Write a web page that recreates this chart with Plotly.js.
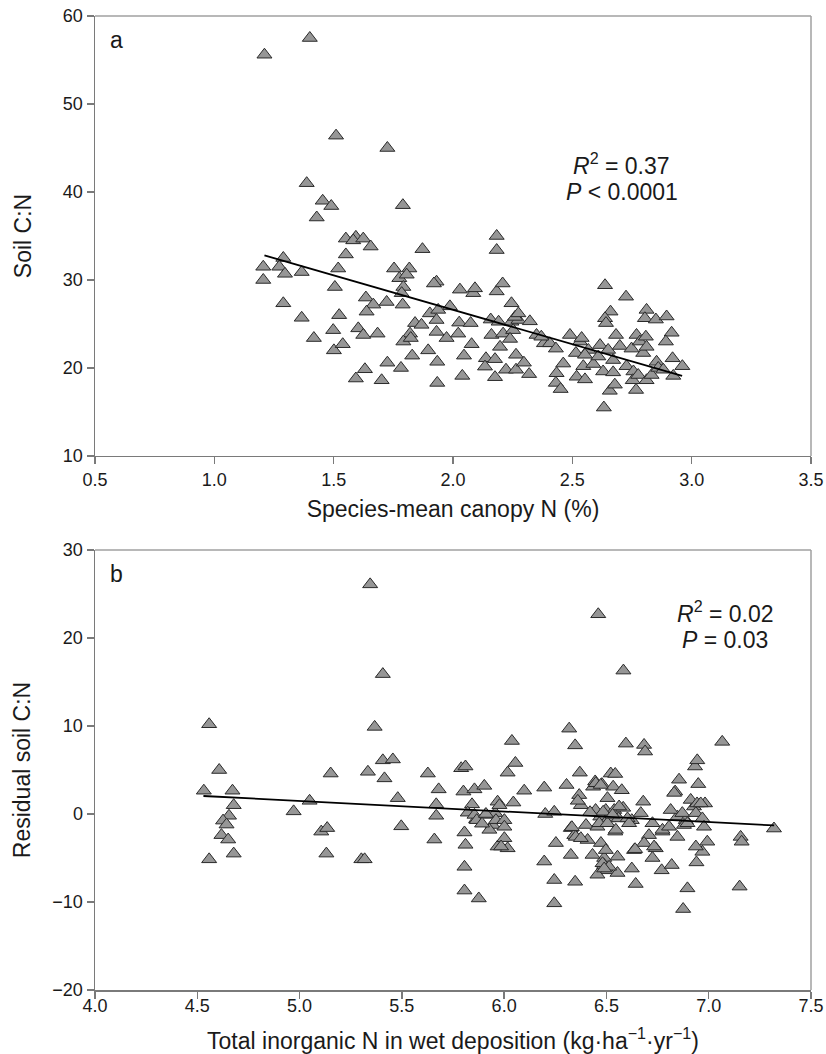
<!DOCTYPE html>
<html>
<head>
<meta charset="utf-8">
<script src="https://cdn.plot.ly/plotly-3.0.1.min.js"></script>
<style>html,body{margin:0;padding:0;background:#fff;}#chart{width:826px;height:1054px;}</style>
</head>
<body>
<div id="chart"></div>
<script>
// Panel a: species-mean canopy N (%) vs soil C:N
const canopyN = [1.21,1.40,1.51,1.725,1.387,1.454,1.49,1.429,1.79,1.551,1.593,1.582,1.624,1.655,1.551,1.872,2.183,2.183,1.205,1.205,
1.289,1.272,1.296,1.366,1.519,1.505,1.289,1.366,1.417,1.523,1.498,1.501,1.538,1.635,1.666,1.638,1.722,1.603,1.624,1.684,
1.753,1.817,1.775,1.806,1.792,1.785,1.789,1.631,1.593,1.701,1.725,1.782,1.931,1.92,2.029,2.085,2.092,1.987,1.903,1.938,
1.841,1.868,1.931,1.820,1.792,1.823,1.931,1.973,2.026,2.022,2.074,2.078,1.829,1.896,1.934,2.046,2.039,1.934,2.183,2.208,
2.245,2.158,2.191,2.245,2.274,2.322,2.161,2.210,2.252,2.239,2.260,2.197,2.138,2.134,2.176,2.176,2.222,2.264,2.264,2.297,
2.319,2.350,2.381,2.406,2.431,2.490,2.532,2.515,2.462,2.434,2.431,2.451,2.518,2.553,2.546,2.567,2.588,2.616,2.629,2.609,
2.637,2.725,2.660,2.637,2.641,2.683,2.650,2.699,2.671,2.671,2.657,2.632,2.678,2.727,2.748,2.756,2.753,2.767,2.769,2.783,
2.808,2.811,2.804,2.850,2.797,2.811,2.776,2.811,2.832,2.853,2.860,2.895,2.916,2.892,2.920,2.923,2.961,2.881,2.37,2.553,
2.274,2.539];
const soilCN = [55.6,57.5,46.4,45.0,41.0,39.0,38.4,37.1,38.5,34.7,34.9,34.5,34.7,33.8,32.9,33.5,35.0,33.4,31.5,30.0,
32.5,31.5,30.7,30.9,31.3,29.2,27.35,25.7,23.4,26.0,24.3,22.0,22.7,28.0,27.2,26.4,27.5,24.5,23.75,23.9,
31.3,31.3,30.2,30.6,29.2,28.5,27.2,19.85,18.8,18.6,20.6,20.0,29.8,29.6,28.9,28.5,29.05,27.0,26.2,26.6,
25.1,24.9,25.45,23.9,23.0,23.4,24.1,23.4,25.15,23.9,25.1,22.7,21.4,22.0,20.7,21.4,19.1,18.3,28.7,29.6,
27.35,25.5,25.25,25.25,25.45,25.3,23.75,23.9,24.3,23.3,25.8,22.4,21.1,20.15,21.0,18.95,19.8,21.5,19.8,20.6,
19.3,23.75,22.8,22.8,22.2,23.75,23.0,21.7,20.5,19.4,18.3,17.6,19.0,18.7,20.2,22.05,20.45,22.6,19.6,21.3,
29.4,28.1,26.4,25.65,25.1,23.75,22.05,22.5,20.9,19.5,17.4,15.5,18.1,20.2,22.2,19.6,18.6,17.5,23.75,23.0,
23.55,26.6,25.65,25.5,21.7,22.4,19.2,18.6,19.2,20.7,20.0,25.85,24.0,23.0,21.1,19.1,20.2,19.8,23.55,21.5,
26.2,23.4];
const fitAx = [1.21, 2.96];
const fitAy = [32.8, 19.1];

// Panel b: total inorganic N in wet deposition vs residual soil C:N
const wetDepN = [5.345,4.558,5.407,5.367,6.460,6.583,6.318,6.038,6.347,6.595,6.684,6.689,7.066,4.607,4.532,4.672,4.678,4.655,4.626,4.643,
4.618,4.651,4.678,4.558,5.152,5.049,4.971,5.106,5.135,5.131,5.302,5.318,5.334,5.407,5.456,5.415,5.480,5.497,5.627,5.680,
5.668,5.668,5.659,5.790,5.811,5.801,5.855,5.903,5.843,5.822,5.863,5.908,5.957,5.944,5.806,5.811,5.806,5.806,5.876,5.968,
5.968,6.055,6.017,6.098,6.196,6.305,6.370,6.445,6.478,6.521,6.543,6.533,6.575,6.505,6.367,6.375,6.447,6.497,6.538,6.582,
6.470,6.510,6.559,6.624,6.40,6.456,6.543,6.326,6.343,6.408,6.680,6.668,6.725,6.774,6.708,6.741,6.635,6.554,6.489,6.489,
6.505,6.456,6.554,6.624,6.432,6.326,6.253,6.196,6.245,6.347,6.245,6.643,6.770,6.819,6.875,6.896,6.940,6.969,6.993,6.937,
6.847,6.847,6.888,6.814,6.871,6.928,6.937,6.969,6.912,6.943,6.982,6.977,6.855,6.836,6.949,6.933,6.944,7.156,7.161,7.151,
7.319,5.928,5.960,6.001,6.001,5.977,6.001,6.017,5.985,6.045,6.201,6.245,6.331,6.350,6.375,6.435,6.448,6.472,6.562,6.484,
6.465,6.505,6.53,6.546,6.603,6.611,6.473,6.497,6.481,6.513,6.489,6.684,6.725,6.774,6.806,6.831,6.879,6.896,6.961,5.855,
5.866,5.892,5.911,6.36,6.42,6.733,6.640];
const residCN = [26.1,10.2,15.9,9.9,22.7,16.3,9.7,8.3,7.8,8.0,7.85,7.1,8.2,5.0,2.65,2.65,1.0,-0.2,-0.75,-1.2,
-2.4,-2.9,-4.5,-5.15,4.6,1.5,0.3,-2.0,-1.6,-4.5,-5.15,-5.15,4.8,6.1,6.2,4.05,1.8,-1.4,4.6,2.8,
1.1,-0.2,-2.9,5.2,5.4,2.55,2.8,3.2,1.1,0.15,-0.6,-0.1,0.1,-1.25,-2.1,-3.5,-6.0,-8.7,-9.6,1.4,
-3.7,5.8,4.7,2.65,3.0,3.3,4.7,3.7,3.4,4.6,4.55,3.1,2.7,1.8,2.15,1.0,0.45,0.45,0.45,0.7,
-0.3,-0.5,-0.5,-0.7,-1.25,-1.45,-2.0,-1.6,-2.4,-2.95,1.4,0.1,-1.05,-2.0,-2.4,-3.9,-4.1,-4.85,-5.0,-5.8,
-6.4,-6.9,-6.7,-6.2,-4.65,-4.65,-3.3,-5.4,-7.5,-7.7,-10.15,-7.95,-6.4,-5.8,-10.8,-8.45,-5.5,-4.3,-3.15,-3.7,
-2.6,-0.3,-0.7,0.45,0.1,0.85,0.1,-0.5,1.6,1.2,1.2,-1.45,3.9,2.55,3.4,5.4,6.1,-2.6,-3.15,-8.25,
-1.65,-1.8,-0.7,-0.7,-1.45,1.0,-2.75,-3.9,-3.7,1.3,0.0,0.25,-1.5,-2.6,-2.75,3.1,3.5,3.3,0.85,0.25,
-1.05,-1.05,-0.1,-1.8,-0.5,-1.05,-3.3,-4.1,-5.6,-6.0,-6.2,-3.3,-5.0,-1.8,-1.45,2.4,-1.25,-1.05,1.2,-0.1,
-0.7,-1.1,0.0,1.5,0.2,-3.7,-4.0];
const fitBx = [4.53, 7.32];
const fitBy = [2.05, -1.3];

// Tick labels
const xTicksA = [0.5,1.0,1.5,2.0,2.5,3.0,3.5];
const xTickTextA = ['0.5','1.0','1.5','2.0','2.5','3.0','3.5'];
const yTicksA = [10,20,30,40,50,60];
const xTicksB = [4.0,4.5,5.0,5.5,6.0,6.5,7.0,7.5];
const xTickTextB = ['4.0','4.5','5.0','5.5','6.0','6.5','7.0','7.5'];
const yTicksB = [-20,-10,0,10,20,30];
const yTickTextB = ['\u221220','\u221210','0','10','20','30'];

const FONT = 'Liberation Sans, Arial, Helvetica, sans-serif';
const markerStyle = {symbol:'triangle-up', size:13, color:'#969696', line:{color:'#2a2a2a', width:1}};

const traces = [
  {x: canopyN, y: soilCN, type:'scatter', mode:'markers', marker: markerStyle, xaxis:'x', yaxis:'y', showlegend:false, hoverinfo:'x+y'},
  {x: fitAx, y: fitAy, type:'scatter', mode:'lines', line:{color:'#000', width:1.8}, xaxis:'x', yaxis:'y', showlegend:false},
  {x: wetDepN, y: residCN, type:'scatter', mode:'markers', marker: markerStyle, xaxis:'x2', yaxis:'y2', showlegend:false, hoverinfo:'x+y'},
  {x: fitBx, y: fitBy, type:'scatter', mode:'lines', line:{color:'#000', width:1.8}, xaxis:'x2', yaxis:'y2', showlegend:false}
];

const axCommon = {
  showgrid:false, zeroline:false, showline:true, linecolor:'#7a7a7a', linewidth:1.5,
  ticks:'outside', ticklen:7, tickwidth:1.5, tickcolor:'#7a7a7a',
  tickfont:{family:FONT, size:18, color:'#1a1a1a'}
};

const layout = {
  width:826, height:1054,
  margin:{l:95, r:15, t:16, b:64},
  paper_bgcolor:'#fff', plot_bgcolor:'#fff',
  font:{family:FONT, color:'#1a1a1a'},
  xaxis: Object.assign({}, axCommon, {
    domain:[0,1], anchor:'y', range:[0.5,3.5], tickvals:xTicksA, ticktext:xTickTextA,
    title:{text:'Species-mean canopy N (%)', font:{family:FONT, size:23, color:'#1a1a1a'}, standoff:12}
  }),
  yaxis: Object.assign({}, axCommon, {
    domain:[0.5483,1], anchor:'x', range:[10,60], tickvals:yTicksA,
    title:{text:'Soil C:N', font:{family:FONT, size:23, color:'#1a1a1a'}, standoff:25}
  }),
  xaxis2: Object.assign({}, axCommon, {
    domain:[0,1], anchor:'y2', range:[4,7.5], tickvals:xTicksB, ticktext:xTickTextB,
    ticklabelstandoff:-8,
    title:{text:'Total inorganic N in wet deposition (kg\u00b7ha<sup>\u22121</sup>\u00b7yr<sup>\u22121</sup>)', font:{family:FONT, size:23, color:'#1a1a1a'}, standoff:22}
  }),
  yaxis2: Object.assign({}, axCommon, {
    domain:[0,0.4517], anchor:'x2', range:[-20,30], tickvals:yTicksB, ticktext:yTickTextB,
    title:{text:'Residual soil C:N', font:{family:FONT, size:23, color:'#1a1a1a'}, standoff:15}
  }),
  shapes:[
    {type:'line', xref:'x domain', yref:'y domain', x0:0, x1:1, y0:1, y1:1, line:{color:'#a0a0a0', width:1.5}},
    {type:'line', xref:'x domain', yref:'y domain', x0:1, x1:1, y0:0, y1:1, line:{color:'#a0a0a0', width:1.5}},
    {type:'line', xref:'x2 domain', yref:'y2 domain', x0:0, x1:1, y0:1, y1:1, line:{color:'#a0a0a0', width:1.5}},
    {type:'line', xref:'x2 domain', yref:'y2 domain', x0:1, x1:1, y0:0, y1:1, line:{color:'#a0a0a0', width:1.5}}
  ],
  annotations:[
    {text:'a', xref:'x domain', yref:'y domain', x:0.03, y:0.945, xanchor:'center', yanchor:'middle', showarrow:false, font:{family:FONT, size:23, color:'#1a1a1a'}},
    {text:'b', xref:'x2 domain', yref:'y2 domain', x:0.03, y:0.945, xanchor:'center', yanchor:'middle', showarrow:false, font:{family:FONT, size:23, color:'#1a1a1a'}},
    {text:'<i>R</i><sup>2</sup> = 0.37', xref:'x', yref:'y', x:2.708, y:43.2, xanchor:'center', yanchor:'middle', showarrow:false, font:{family:FONT, size:23, color:'#1a1a1a'}},
    {text:'<i>P</i> &lt; 0.0001', xref:'x', yref:'y', x:2.708, y:40.0, xanchor:'center', yanchor:'middle', showarrow:false, font:{family:FONT, size:23, color:'#1a1a1a'}},
    {text:'<i>R</i><sup>2</sup> = 0.02', xref:'x2', yref:'y2', x:7.08, y:22.95, xanchor:'center', yanchor:'middle', showarrow:false, font:{family:FONT, size:23, color:'#1a1a1a'}},
    {text:'<i>P</i> = 0.03', xref:'x2', yref:'y2', x:7.08, y:19.8, xanchor:'center', yanchor:'middle', showarrow:false, font:{family:FONT, size:23, color:'#1a1a1a'}}
  ]
};

Plotly.newPlot('chart', traces, layout, {displayModeBar:false, staticPlot:true});
</script>
</body>
</html>
